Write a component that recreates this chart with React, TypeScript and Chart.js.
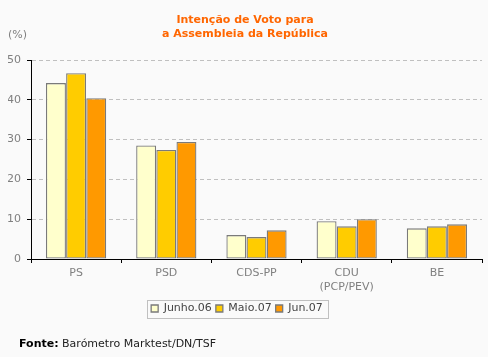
import React, { useEffect, useRef } from "react";
import { Chart, registerables } from "chart.js";

Chart.register(...registerables);

const categories: (string | string[])[] = ["PS", "PSD", "CDS-PP", ["CDU", "(PCP/PEV)"], "BE"];
const seriesNames = ["Junho.06", "Maio.07", "Jun.07"];
const junho06 = [44.2, 28.5, 6.0, 9.5, 7.7];
const maio07 = [46.7, 27.4, 5.5, 8.2, 8.2];
const jun07 = [40.4, 29.4, 7.2, 10.0, 8.7];
const seriesColors = ["#ffffcc", "#ffcc00", "#ff9900"];
const titleLines = ["Intenção de Voto para", "a Assembleia da República"];
const unitLabel = "(%)";
const sourceBold = "Fonte:";
const sourceText = " Barómetro Marktest/DN/TSF";

const FONT = "'DejaVu Sans', Verdana, sans-serif";

const decorPlugin = {
  id: "decor",
  beforeDraw(chart: any) {
    const ctx = chart.ctx;
    ctx.save();
    ctx.fillStyle = "#fafafa";
    ctx.fillRect(0, 0, chart.width, chart.height);
    ctx.restore();
  },
  afterLayout(chart: any) {
    const lg = chart.legend;
    if (lg) {
      lg.left -= 8;
      lg.right -= 8;
    }
  },
  afterDraw(chart: any) {
    const ctx = chart.ctx;
    ctx.save();
    // legend frame
    const lg = chart.legend;
    if (lg && lg.legendHitBoxes && lg.legendHitBoxes.length) {
      const hb = lg.legendHitBoxes;
      const first = hb[0];
      const last = hb[hb.length - 1];
      const cy = first.top + first.height / 2;
      ctx.strokeStyle = "#c0c0c0";
      ctx.lineWidth = 1;
      ctx.strokeRect(Math.round(first.left - 4) + 0.5, Math.round(cy - 9) + 0.5, Math.round(last.left + last.width - first.left + 9), 18);
    }
    // unit label
    ctx.font = `11px ${FONT}`;
    ctx.fillStyle = "#808080";
    ctx.textBaseline = "middle";
    ctx.textAlign = "left";
    ctx.fillText(unitLabel, 8, 35);
    // source
    ctx.fillStyle = "#000";
    ctx.font = `bold 11px ${FONT}`;
    ctx.fillText(sourceBold, 19, 344);
    const w = ctx.measureText(sourceBold).width;
    ctx.font = `11px ${FONT}`;
    ctx.fillStyle = "#222";
    ctx.fillText(sourceText, 19 + w, 344);
    ctx.restore();
  },
};

export default function App() {
  const ref = useRef<HTMLCanvasElement | null>(null);
  useEffect(() => {
    if (!ref.current) return;
    const data = [junho06, maio07, jun07];
    const chart = new Chart(ref.current, {
      type: "bar",
      data: {
        labels: categories as any,
        datasets: seriesNames.map((name, i) => ({
          label: name,
          data: data[i],
          backgroundColor: seriesColors[i],
          borderColor: "#7a7a7a",
          borderWidth: 1.3,
          borderSkipped: false,
          categoryPercentage: 0.67,
          barPercentage: 0.99,
        })),
      },
      options: {
        animation: false,
        responsive: false,
        devicePixelRatio: 1,
        layout: { padding: { left: 8, right: 6, top: 0, bottom: 33 } },
        plugins: {
          tooltip: { enabled: false },
          title: {
            display: true,
            text: titleLines,
            color: "#ff6600",
            font: { family: FONT, size: 11, weight: "bold", lineHeight: "14px" },
            padding: { top: 13, bottom: 19 },
          },
          legend: {
            position: "bottom",
            labels: {
              color: "#444",
              font: { family: FONT, size: 11 },
              boxWidth: 7,
              boxHeight: 7,
              padding: 4,
            },
          },
        },
        scales: {
          x: {
            offset: true,
            grid: {
              display: true,
              offset: true,
              drawOnChartArea: false,
              drawTicks: true,
              tickLength: 4,
              tickColor: "#000",
            },
            border: { display: true, color: "#000", width: 1 },
            ticks: {
              color: "#808080",
              font: { family: FONT, size: 11, lineHeight: "14px" },
              padding: 3,
              maxRotation: 0,
              autoSkip: false,
            },
            afterFit: (s: any) => {
              s.height = 40;
            },
          },
          y: {
            min: 0,
            max: 50,
            ticks: {
              stepSize: 10,
              color: "#808080",
              font: { family: FONT, size: 11 },
              padding: 6,
            },
            grid: {
              color: (c: any) => (c.tick && c.tick.value === 0 ? "rgba(0,0,0,0)" : "#c0c0c0"),
              tickColor: "#000",
              tickLength: 4,
              lineWidth: 1,
            },
            border: { display: true, color: "#000", width: 1, dash: [4, 3] },
            afterFit: (s: any) => {
              s.width = 23;
            },
          },
        },
      },
      plugins: [decorPlugin],
    } as any);
    return () => chart.destroy();
  }, []);
  return (
    <div style={{ position: "absolute", left: 0, top: 0, width: 488, height: 357 }}>
      <canvas ref={ref} width={488} height={357} />
    </div>
  );
}
